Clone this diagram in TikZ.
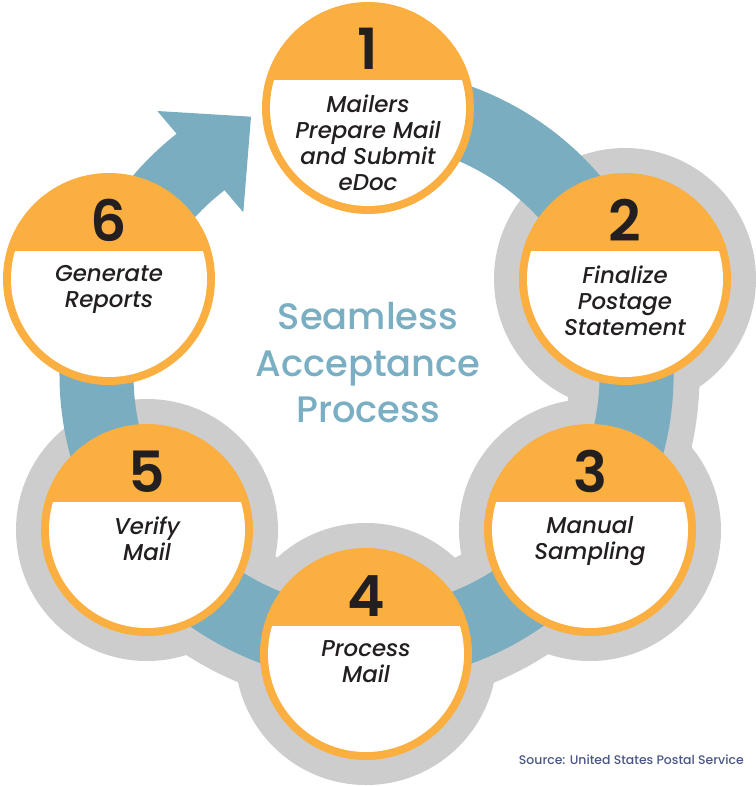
\documentclass[tikz,border=0pt]{standalone}
\usepackage{fontspec}
\setmainfont{Poppins}
\newfontfamily\medfont{Poppins Medium}
\newfontfamily\meditfont{Poppins Medium Italic}
\newfontfamily\numfont{Poppins SemiBold}

\definecolor{stepOrange}{HTML}{FAAF40}
\definecolor{ringBlue}{HTML}{7AADC0}
\definecolor{haloGray}{HTML}{CDCDCD}
\definecolor{inkBlack}{HTML}{231F20}
\definecolor{titleBlue}{HTML}{7AAEC3}
\definecolor{sourceBlue}{HTML}{4A5686}

\tikzset{
  disc/.style={circle, minimum size=212bp, inner sep=0pt, fill=stepOrange},
  halo/.style={fill=haloGray},
  numlabel/.style={anchor=base, inner sep=0pt, text=inkBlack,
    font=\numfont\fontsize{57}{57}\selectfont},
  steplabel/.style={anchor=north, inner sep=0pt, align=center, text=inkBlack,
    font=\meditfont\fontsize{23}{26}\selectfont},
  titlelabel/.style={anchor=north, inner sep=0pt, align=center, text=titleBlue,
    font=\medfont\fontsize{37}{46.5}\selectfont},
  sourcelabel/.style={anchor=base east, inner sep=0pt, text=sourceBlue,
    font=\medfont\fontsize{12.5}{14}\selectfont},
}

% one process step: name, x, y, number, caption
\newcommand\processstep[5]{%
  \node[disc] (#1) at (#2,#3) {};
  \begin{scope}
    \clip (#2-110,#3-28) rectangle (#2+110,#3+110);
    \fill[white] (#1.center) circle[radius=98];
  \end{scope}
  \node[numlabel] (#1num) at (#2,#3-38) {#4};
  \node[steplabel] (#1txt) at (#2,#3-13.5) {#5};
}

\begin{document}
\begin{tikzpicture}[x=1bp, y=-1bp]
  \useasboundingbox (0,0) rectangle (756,786);

  \coordinate (hub) at (366.5,375);

  % grey backing band along the lower part of the cycle
  \draw[haloGray, line width=130bp] (hub) ++(-20.6:268)
    arc[start angle=-20.6, end angle=144.8, radius=268];

  % grey halos behind steps 2 to 5
  \fill[halo] (625,279) circle[radius=131];
  \fill[halo] (590,530) circle[radius=131];
  \fill[halo] (366,654) circle[radius=131];
  \fill[halo] (147,530) circle[radius=131];

  % blue cycle ring ending in an arrow head before step 1
  \draw[ringBlue, line width=74bp] (hub) ++(-105:270)
    arc[start angle=-105, end angle=234, radius=270];
  \coordinate (headtop) at (157.3,111);
  \coordinate (headtip) at (251,116.7);
  \coordinate (headlow) at (243.3,212.3);
  \fill[ringBlue] (headtop) -- (headtip) -- (headlow) -- cycle;

  % the six steps
  \processstep{s1}{368}{108}{1}{Mailers\\Prepare Mail\\and Submit\\eDoc}
  \processstep{s2}{625}{279}{2}{Finalize\\Postage\\Statement}
  \processstep{s3}{590}{530}{3}{Manual\\Sampling}
  \processstep{s4}{366}{654}{4}{Process\\Mail}
  \processstep{s5}{147}{530}{5}{Verify\\Mail}
  \processstep{s6}{109}{279}{6}{Generate\\Reports}

  % centre title and source line
  \node[titlelabel] (title) at (368,302.5) {Seamless\\Acceptance\\Process};
  \node[sourcelabel] (source) at (744,764) {Source: United States Postal Service};
\end{tikzpicture}
\end{document}
